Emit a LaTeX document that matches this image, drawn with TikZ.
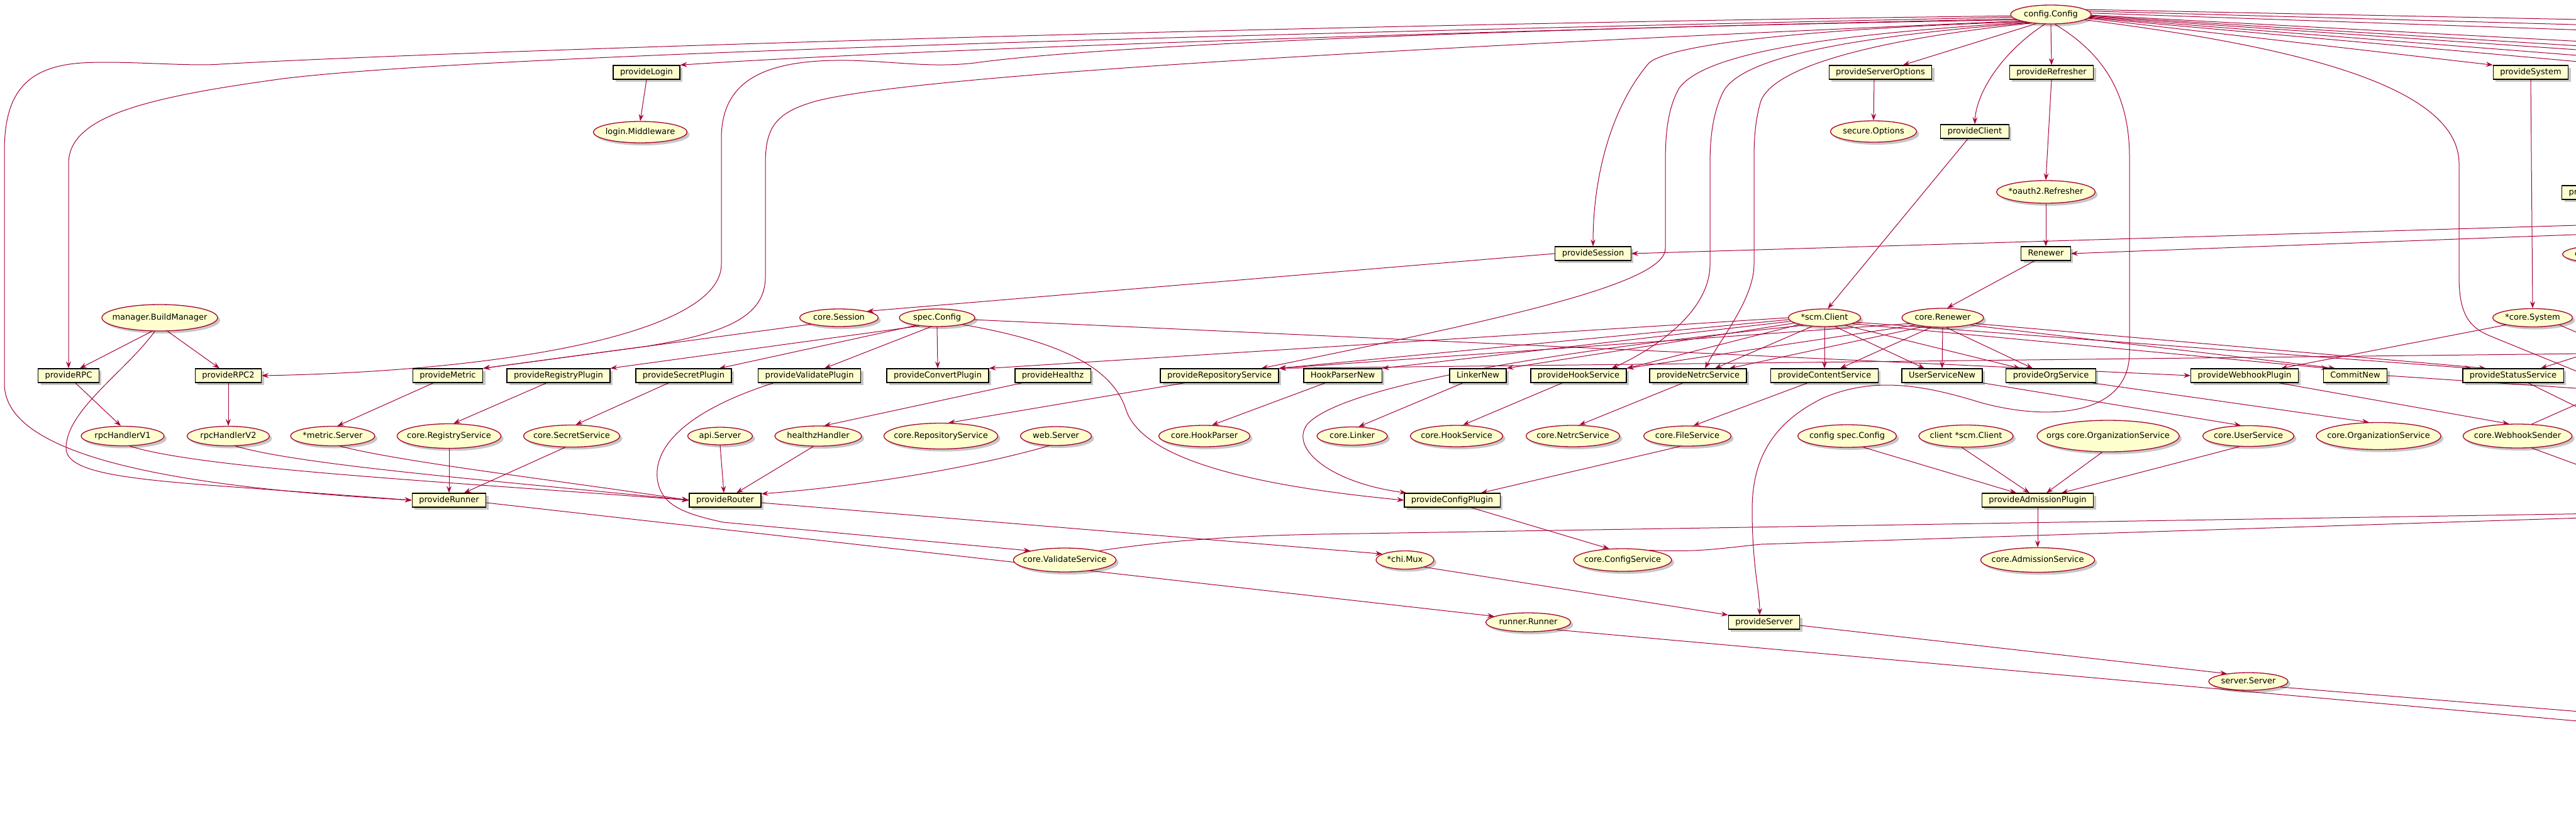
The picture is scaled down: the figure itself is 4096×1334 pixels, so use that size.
\documentclass[tikz,border=0pt]{standalone}
\usepackage{fontspec}
\setmainfont{DejaVu Sans}
\usetikzlibrary{shapes.geometric,arrows.meta,shadows,backgrounds}
\definecolor{pcol}{HTML}{A80036}
\definecolor{pfill}{HTML}{FEFECE}
\newcommand{\zt}[1]{\makebox[0pt]{#1}}
\tikzset{
  shad/.style={drop shadow={shadow xshift=4pt,shadow yshift=-4pt,fill=black,opacity=0.22}},
  el/.style 2 args={ellipse,draw=pcol,fill=pfill,line width=1.3pt,minimum width=#1pt,minimum height=#2pt,inner sep=0pt,text height=9.5pt,text depth=2.5pt,shad},
  bx/.style={rectangle,draw=black,fill=pfill,line width=1.3pt,minimum height=22pt,inner xsep=11pt,inner ysep=0pt,text height=9.5pt,text depth=2.5pt,shad},
  ed/.style={draw=pcol,line width=1pt,-{Stealth[length=11pt,width=8pt,inset=4pt]}},
}
\begin{document}
\begin{tikzpicture}[x=1pt,y=-1pt,font=\fontsize{13}{15}\selectfont]
\useasboundingbox (0,0) rectangle (4096,1334);

% ---------- ellipses ----------
\node[el={128}{30}] (cfg) at (3261,23) {\zt{config.Config}};
\node[el={149}{34}] (loginMW) at (1018,210) {\zt{login.Middleware}};
\node[el={137}{34}] (secure) at (2979,209) {\zt{secure.Options}};
\node[el={157}{36}] (oauth) at (3253,305) {\zt{*oauth2.Refresher}};
\node[el={184}{42}] (bm) at (254,505) {\zt{manager.BuildManager}};
\node[el={125}{28}] (coreSession) at (1334,505) {\zt{core.Session}};
\node[el={120}{28}] (spec) at (1490,505) {\zt{spec.Config}};
\node[el={115}{28}] (scm) at (2901,505) {\zt{*scm.Client}};
\node[el={130}{30}] (ren) at (3089,505) {\zt{core.Renewer}};
\node[el={127}{29}] (sys) at (4027,505) {\zt{*core.System}};
\node[el={135}{28},anchor=west] (partC) at (4074,404) {\makebox[0pt][l]{\hspace*{-48pt}c}};

\node[el={132}{31}] (rpcV1) at (195,693) {\zt{rpcHandlerV1}};
\node[el={131}{31}] (rpcV2) at (363,693) {\zt{rpcHandlerV2}};
\node[el={134}{31}] (metricSrv) at (529,693) {\zt{*metric.Server}};
\node[el={165}{39}] (coreRegistry) at (714,693) {\zt{core.RegistryService}};
\node[el={153}{35}] (coreSecret) at (909,693) {\zt{core.SecretService}};
\node[el={103}{28}] (apiSrv) at (1145,693) {\zt{api.Server}};
\node[el={138}{32}] (healthz) at (1301,693) {\zt{healthzHandler}};
\node[el={181}{41}] (coreRepo) at (1496,693) {\zt{core.RepositoryService}};
\node[el={113}{30}] (webSrv) at (1679,693) {\zt{web.Server}};
\node[el={145}{34}] (coreHookParser) at (1915,693) {\zt{core.HookParser}};
\node[el={112}{29}] (coreLinker) at (2150,693) {\zt{core.Linker}};
\node[el={147}{34}] (coreHook) at (2316,693) {\zt{core.HookService}};
\node[el={149}{34}] (coreNetrc) at (2501,693) {\zt{core.NetrcService}};
\node[el={139}{32}] (coreFile) at (2683,693) {\zt{core.FileService}};
\node[el={157}{36}] (cfgSpec) at (2937,693) {\zt{config spec.Config}};
\node[el={150}{35}] (clientScm) at (3126,693) {\zt{client *scm.Client}};
\node[el={226}{50}] (orgs) at (3352,693) {\zt{orgs core.OrganizationService}};
\node[el={145}{33}] (coreUser) at (3575,693) {\zt{core.UserService}};
\node[el={198}{43}] (coreOrg) at (3782,693) {\zt{core.OrganizationService}};
\node[el={173}{38}] (webhookSender) at (4003,693) {\zt{core.WebhookSender}};

\node[el={163}{38}] (coreValidate) at (1693,890) {\zt{core.ValidateService}};
\node[el={92}{29}] (chiMux) at (2234,890) {\zt{*chi.Mux}};
\node[el={156}{36}] (coreConfig) at (2580,890) {\zt{core.ConfigService}};
\node[el={181}{39}] (coreAdm) at (3240,890) {\zt{core.AdmissionService}};
\node[el={135}{30}] (runner) at (2430,989) {\zt{runner.Runner}};
\node[el={126}{28}] (serverSrv) at (3575,1083) {\zt{server.Server}};

% ---------- boxes ----------
\node[bx] (pLogin) at (1028,115) {provideLogin};
\node[bx] (pServerOpts) at (2990,115) {provideServerOptions};
\node[bx] (pRefresher) at (3262,115) {provideRefresher};
\node[bx] (pSystem) at (4024,115) {provideSystem};
\node[bx] (pClient) at (3140,209) {provideClient};
\node[bx,anchor=west] (partPr) at (4073,306) {pr\hspace*{95pt}};
\node[bx] (pSession) at (2533,403) {provideSession};
\node[bx] (renewerBox) at (3253,403) {Renewer};

\node[bx] (pRPC) at (109,597) {provideRPC};
\node[bx] (pRPC2) at (363,597) {provideRPC2};
\node[bx] (pMetric) at (712,597) {provideMetric};
\node[bx] (pRegistry) at (888,597) {provideRegistryPlugin};
\node[bx] (pSecret) at (1087,597) {provideSecretPlugin};
\node[bx] (pValidate) at (1287,597) {provideValidatePlugin};
\node[bx] (pConvert) at (1491,597) {provideConvertPlugin};
\node[bx] (pHealthz) at (1674,597) {provideHealthz};
\node[bx] (pRepoSvc) at (1939,597) {provideRepositoryService};
\node[bx] (hpn) at (2135,597) {HookParserNew};
\node[bx] (linkerNew) at (2350,597) {LinkerNew};
\node[bx] (pHookSvc) at (2510,597) {provideHookService};
\node[bx] (pNetrcSvc) at (2700,597) {provideNetrcService};
\node[bx] (pContent) at (2901,597) {provideContentService};
\node[bx] (usn) at (3088,597) {UserServiceNew};
\node[bx] (pOrg) at (3261,597) {provideOrgService};
\node[bx] (pWebhook) at (3569,597) {provideWebhookPlugin};
\node[bx] (commitNew) at (3745,597) {CommitNew};
\node[bx] (pStatus) at (3996,597) {provideStatusService};

\node[bx] (pRunner) at (714,795) {provideRunner};
\node[bx] (pRouter) at (1153,795) {provideRouter};
\node[bx] (pConfig) at (2309,795) {provideConfigPlugin};
\node[bx] (pAdm) at (3240,795) {provideAdmissionPlugin};
\node[bx] (pServer) at (2805,989) {provideServer};

% ---------- free ends beyond the right edge ----------
\coordinate (oR1) at (4200,33);
\coordinate (oR2) at (4200,42);
\coordinate (oR3) at (4200,51);
\coordinate (oR4) at (4200,71);
\coordinate (oR5) at (4200,79);
\coordinate (oR6) at (4200,86);
\coordinate (oR7) at (4200,96);
\coordinate (oR8) at (4200,107);
\coordinate (oCfgA) at (4200,632);
\coordinate (oSess) at (4200,355);
\coordinate (oRen) at (4200,369);
\coordinate (oStatIn) at (4200,534);
\coordinate (oSys) at (4200,572);
\coordinate (oRepo) at (4200,561);
\coordinate (oCommit) at (4200,624);
\coordinate (oStatus) at (4200,697);
\coordinate (oWhA) at (4200,597);
\coordinate (oWhB) at (4200,776);
\coordinate (oVal) at (4200,815);
\coordinate (oCfgSvc) at (4200,820);
\coordinate (oSrv) at (4200,1139);
\coordinate (oRunner) at (4200,1155);

\begin{scope}[on background layer]
\fill[white] (0,0) rectangle (4096,1334);
% config.Config to the left
\draw[ed] (cfg.182) .. controls (2000,40) and (700,82) .. (350,102) .. controls (300,106) and (200,96) .. (130,100) .. controls (40,106) and (7,150) .. (7,240) -- (7,610) .. controls (7,730) and (300,775) .. (pRunner.west);
\draw[ed] (cfg.184) .. controls (1900,55) and (750,88) .. (450,125) .. controls (230,155) and (109,185) .. (109,260) -- (pRPC.north);
\draw[ed] (cfg.187) .. controls (2500,45) and (1500,75) .. (pLogin.north east);
\draw[ed] (cfg.189) .. controls (2400,45) and (1750,72) .. (1550,100) .. controls (1480,108) and (1430,98) .. (1350,96) .. controls (1220,94) and (1147,125) .. (1147,220) -- (1147,420) .. controls (1147,530) and (800,590) .. (pRPC2.east);
\draw[ed] (cfg.192) .. controls (2600,60) and (1500,110) .. (1300,160) .. controls (1235,178) and (1217,200) .. (1217,260) -- (1217,440) .. controls (1217,505) and (1150,530) .. (1030,550) -- (pMetric.north east);
\draw[ed] (cfg.195) .. controls (2900,45) and (2660,68) .. (2622,100) .. controls (2562,170) and (2533,280) .. (pSession.north);
\draw[ed] (cfg.198) .. controls (2900,55) and (2710,85) .. (2670,140) .. controls (2650,175) and (2648,220) .. (2648,260) -- (2648,395) .. controls (2648,450) and (2400,505) .. ([xshift=-28pt]pRepoSvc.north east);
\draw[ed] (cfg.201) .. controls (2920,60) and (2760,95) .. (2738,150) .. controls (2722,185) and (2719,225) .. (2719,260) -- (2719,420) .. controls (2719,500) and (2620,560) .. ([xshift=-24pt]pHookSvc.north east);
\draw[ed] (cfg.204) .. controls (2960,65) and (2820,110) .. (2800,160) .. controls (2791,190) and (2789,220) .. (2789,250) -- (2789,420) .. controls (2789,475) and (2735,540) .. ([xshift=11pt]pNetrcSvc.north);
\draw[ed] (cfg.212) -- ([xshift=36pt]pServerOpts.north);
\draw[ed] (cfg.238) .. controls (3180,85) and (3142,150) .. (pClient.north);
\draw[ed] (cfg.south) -- (pRefresher.north);
\draw[ed] (cfg.292) .. controls (3345,85) and (3386,150) .. (3386,250) -- (3386,560) .. controls (3386,660) and (3260,670) .. (3150,640) .. controls (3060,612) and (2980,598) .. (2900,632) .. controls (2810,675) and (2786,740) .. (2786,810) .. controls (2786,900) and (2798,940) .. ([xshift=-7pt]pServer.north);
% config.Config to the right
\draw[ed] (cfg.-6) -- (pSystem.north west);
\draw[ed] (cfg.-9) .. controls (3620,70) and (3910,130) .. (3910,260) -- (3910,440) .. controls (3910,505) and (3930,522) .. (3962,535) -- (oCfgA);
\draw[ed] (cfg.8) -- (oR1);
\draw[ed] (cfg.5) -- (oR2);
\draw[ed] (cfg.2) -- (oR3);
\draw[ed] (cfg.-1) -- (oR4);
\draw[ed] (cfg.-2) -- (oR5);
\draw[ed] (cfg.-3) -- (oR6);
\draw[ed] (cfg.-4) -- (oR7);
\draw[ed] (cfg.-5) -- (oR8);
% upper chains
\draw[ed] (oSess) -- (pSession.east);
\draw[ed] (oRen) -- (renewerBox.east);
\draw[ed] (pLogin.south) -- (loginMW.north);
\draw[ed] ([xshift=-10pt]pServerOpts.south) -- (secure.north);
\draw[ed] (pRefresher.south) -- (oauth.north);
\draw[ed] (oauth.south) -- (renewerBox.north);
\draw[ed] ([xshift=-11pt]pClient.south) -- (scm.70);
\draw[ed] ([xshift=-18pt]renewerBox.south) -- (ren.65);
\draw[ed] (pSystem.south) -- (sys.north);
\draw[ed] (pSession.west) -- (coreSession.north east);
\draw[ed] (coreSession.south west) -- (pMetric.north east);
% build manager
\draw[ed] (bm.240) -- ([xshift=18pt]pRPC.north);
\draw[ed] (bm.-60) -- ([xshift=-14pt]pRPC2.north);
\draw[ed] (bm.250) .. controls (200,590) and (108,650) .. (105,710) .. controls (102,752) and (200,762) .. (400,776) -- (pRunner.west);
% providers to products
\draw[ed] ([xshift=11pt]pRPC.south) -- (rpcV1.100);
\draw[ed] (pRPC2.south) -- (rpcV2.north);
\draw[ed] ([xshift=-23pt]pMetric.south) -- (metricSrv.65);
\draw[ed] ([xshift=-19pt]pRegistry.south) -- (coreRegistry.70);
\draw[ed] ([xshift=-24pt]pSecret.south) -- (coreSecret.70);
\draw[ed] ([xshift=-49pt]pHealthz.south) -- (healthz.60);
\draw[ed] ([xshift=-56pt]pRepoSvc.south) -- (coreRepo.60);
\draw[ed] ([xshift=-28pt]hpn.south) -- (coreHookParser.55);
\draw[ed] ([xshift=-24pt]linkerNew.south) -- (coreLinker.55);
\draw[ed] ([xshift=-26pt]pHookSvc.south) -- (coreHook.60);
\draw[ed] ([xshift=-24pt]pNetrcSvc.south) -- (coreNetrc.60);
\draw[ed] ([xshift=-27pt]pContent.south) -- (coreFile.60);
\draw[ed] (usn.south east) -- (coreUser.125);
\draw[ed] ([xshift=66pt]pOrg.south) -- (coreOrg.125);
\draw[ed] ([xshift=55pt]pWebhook.south) -- (webhookSender.125);
\draw[ed] (commitNew.east) -- (oCommit);
\draw[ed] ([xshift=24pt]pStatus.south) -- (oStatus);
\draw[ed] (webhookSender.40) -- (oWhA);
\draw[ed] (webhookSender.-40) -- (oWhB);
\draw[ed] (sys.-15) -- (oSys);
\draw[ed] (sys.195) -- ([xshift=58pt]pWebhook.north);
\draw[ed] (oStatIn) -- ([xshift=-37pt]pStatus.north east);
\draw[ed] (oRepo) -- (pRepoSvc.north east);
% spec.Config
\draw[ed] (spec.200) -- ([xshift=-20pt]pSecret.north east);
\draw[ed] (spec.205) -- (pRegistry.north east);
\draw[ed] (spec.235) -- ([xshift=24pt]pValidate.north);
\draw[ed] (spec.south) -- (pConvert.north);
\draw[ed] (spec.-15) .. controls (1700,545) and (1770,590) .. (1790,650) .. controls (1812,720) and (1950,768) .. (pConfig.west);
\draw[ed] (spec.-3) -- (pWebhook.west);
% *scm.Client
\draw[ed] (scm.180) -- (pConvert.north east);
\draw[ed] (scm.183) -- (pRepoSvc.north east);
\draw[ed] (scm.186) -- (hpn.north east);
\draw[ed] (scm.190) -- (linkerNew.north east);
\draw[ed] (scm.195) -- (pHookSvc.north east);
\draw[ed] (scm.215) -- ([xshift=27pt]pNetrcSvc.north);
\draw[ed] (scm.south) -- (pContent.north);
\draw[ed] (scm.-40) -- ([xshift=-28pt]usn.north);
\draw[ed] (scm.-20) -- ([xshift=-49pt]pOrg.north);
\draw[ed] (scm.-12) -- (commitNew.165);
\draw[ed] (scm.-8) -- (pStatus.170);
\draw[ed] (scm.200) .. controls (2450,560) and (2130,615) .. (2078,675) .. controls (2050,715) and (2120,768) .. ([xshift=4pt]pConfig.north west);
% core.Renewer
\draw[ed] (ren.south) -- (usn.north);
\draw[ed] (ren.-70) -- ([xshift=-29pt]pOrg.north);
\draw[ed] (ren.220) -- ([xshift=25pt]pContent.north);
\draw[ed] (ren.205) -- ([xshift=50pt]pNetrcSvc.north);
\draw[ed] (ren.195) -- (pHookSvc.north east);
\draw[ed] (ren.190) -- (pRepoSvc.north east);
\draw[ed] (ren.-15) -- (commitNew.160);
\draw[ed] (ren.-10) -- (pStatus.165);
% admission
\draw[ed] (cfgSpec.-35) -- ([xshift=-34pt]pAdm.north);
\draw[ed] (clientScm.-110) -- ([xshift=-13pt]pAdm.north);
\draw[ed] (orgs.-110) -- ([xshift=14pt]pAdm.north);
\draw[ed] (coreUser.-130) -- ([xshift=38pt]pAdm.north);
\draw[ed] (pAdm.south) -- (coreAdm.north);
% router
\draw[ed] (apiSrv.south) -- ([xshift=-2pt]pRouter.north);
\draw[ed] (healthz.-115) -- ([xshift=18pt]pRouter.north);
\draw[ed] (webSrv.-125) .. controls (1560,740) and (1380,772) .. (pRouter.10);
\draw[ed] (rpcV1.-55) .. controls (320,745) and (700,765) .. (pRouter.west);
\draw[ed] (rpcV2.-55) .. controls (480,740) and (800,765) .. (pRouter.west);
\draw[ed] (metricSrv.-55) .. controls (640,735) and (900,765) .. (pRouter.west);
% runner, server
\draw[ed] (coreRegistry.south) -- (pRunner.north);
\draw[ed] (coreSecret.-120) -- ([xshift=24pt]pRunner.north);
\draw[ed] ([yshift=-4pt]pRunner.east) -- (runner.170);
\draw[ed] ([yshift=-4pt]pRouter.east) -- (chiMux.165);
\draw[ed] (chiMux.-20) -- (pServer.north west);
\draw[ed] ([yshift=-5pt]pServer.east) -- (serverSrv.160);
\draw[ed] (serverSrv.-10) -- (oSrv);
\draw[ed] (runner.-15) -- (oRunner);
% validate, config services
\draw[ed] ([xshift=-57pt]pValidate.south) .. controls (1100,650) and (1040,705) .. (1045,760) .. controls (1050,800) and (1080,815) .. (1150,830) -- (coreValidate.165);
\draw[ed] (coreValidate.15) .. controls (1850,860) and (1950,852) .. (2100,849) -- (oVal);
\draw[ed] (coreFile.-125) -- ([xshift=46pt]pConfig.north);
\draw[ed] ([xshift=30pt]pConfig.south) -- (coreConfig.140);
\draw[ed] (coreConfig.20) .. controls (2700,878) and (2731,872) .. (2800,865) -- (oCfgSvc);
\end{scope}
\end{tikzpicture}
\end{document}
